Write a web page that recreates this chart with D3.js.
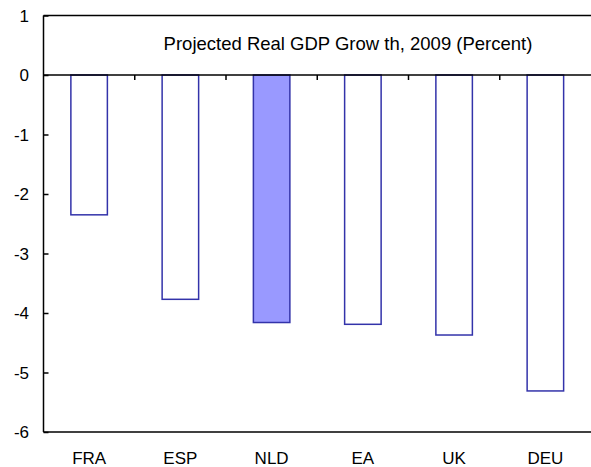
<!DOCTYPE html>
<html>
<head>
<meta charset="utf-8">
<script src="https://cdn.jsdelivr.net/npm/d3@7"></script>
<style>
  body { margin: 0; background: #fff; }
  text { font-family: "Liberation Sans", Arial, sans-serif; fill: #000; }
</style>
</head>
<body>
<svg></svg>
<script>
const width = 591;
const height = 467;

const countries = ['FRA', 'ESP', 'NLD', 'EA', 'UK', 'DEU'];
const growth = [-2.35, -3.77, -4.16, -4.19, -4.37, -5.31];
const highlight = 'NLD';
const yTicks = [1, 0, -1, -2, -3, -4, -5, -6];
const title = 'Projected Real GDP Grow th, 2009 (Percent)';

const margin = {top: 15.5, right: 0, bottom: 35, left: 43.5};

const svg = d3.select('svg')
    .attr('width', width)
    .attr('height', height);

const x = d3.scaleBand()
    .domain(countries)
    .range([margin.left, width])
    .paddingInner(0.6)
    .paddingOuter(0.3);

const y = d3.scaleLinear()
    .domain([-6, 1])
    .range([height - margin.bottom, margin.top]);

const data = countries.map((c, i) => ({name: c, value: growth[i]}));

// bars
svg.selectAll('rect.bar')
    .data(data)
    .enter().append('rect')
    .attr('class', 'bar')
    .attr('x', d => x(d.name))
    .attr('y', y(0))
    .attr('width', x.bandwidth())
    .attr('height', d => y(d.value) - y(0))
    .attr('fill', d => d.name == highlight ? '#9999ff' : '#ffffff')
    .attr('stroke', '#3333aa')
    .attr('stroke-width', 1.5);

// frame: top and bottom lines
[1, -6].forEach(v => {
    svg.append('line')
        .attr('x1', margin.left).attr('x2', width)
        .attr('y1', y(v)).attr('y2', y(v))
        .attr('stroke', '#000').attr('stroke-width', 1.5);
});

// zero line with category separator ticks
const gap = (x.step() - x.bandwidth()) / 2;
svg.append('line')
    .attr('x1', margin.left).attr('x2', width)
    .attr('y1', y(0)).attr('y2', y(0))
    .attr('stroke', '#000').attr('stroke-width', 1.5);
svg.selectAll('line.sep')
    .data(countries.slice(1))
    .enter().append('line')
    .attr('class', 'sep')
    .attr('x1', d => x(d) - gap)
    .attr('x2', d => x(d) - gap)
    .attr('y1', y(0)).attr('y2', y(0) + 5)
    .attr('stroke', '#000').attr('stroke-width', 1.5);

// y axis
const yAxis = svg.append('g')
    .attr('transform', `translate(${margin.left},0)`)
    .call(d3.axisRight(y).tickValues(yTicks).tickSize(5).tickFormat(''));
yAxis.select('.domain').remove();
yAxis.selectAll('line').attr('stroke', '#000').attr('stroke-width', 1.5);
svg.append('line')
    .attr('x1', margin.left).attr('x2', margin.left)
    .attr('y1', y(1)).attr('y2', y(-6))
    .attr('stroke', '#000').attr('stroke-width', 1.5);

svg.selectAll('text.ylab')
    .data(yTicks)
    .enter().append('text')
    .attr('class', 'ylab')
    .attr('x', 29)
    .attr('y', d => y(d) + 6)
    .attr('text-anchor', 'end')
    .style('font-size', '17px')
    .text(d => d);

// x labels
svg.selectAll('text.xlab')
    .data(countries)
    .enter().append('text')
    .attr('class', 'xlab')
    .attr('x', d => x(d) + x.bandwidth() / 2)
    .attr('y', 464)
    .attr('text-anchor', 'middle')
    .style('font-size', '17px')
    .text(d => d);

// title
svg.append('text')
    .attr('x', 348)
    .attr('y', 50)
    .attr('text-anchor', 'middle')
    .style('font-size', '18.5px')
    .text(title);
</script>
</body>
</html>
